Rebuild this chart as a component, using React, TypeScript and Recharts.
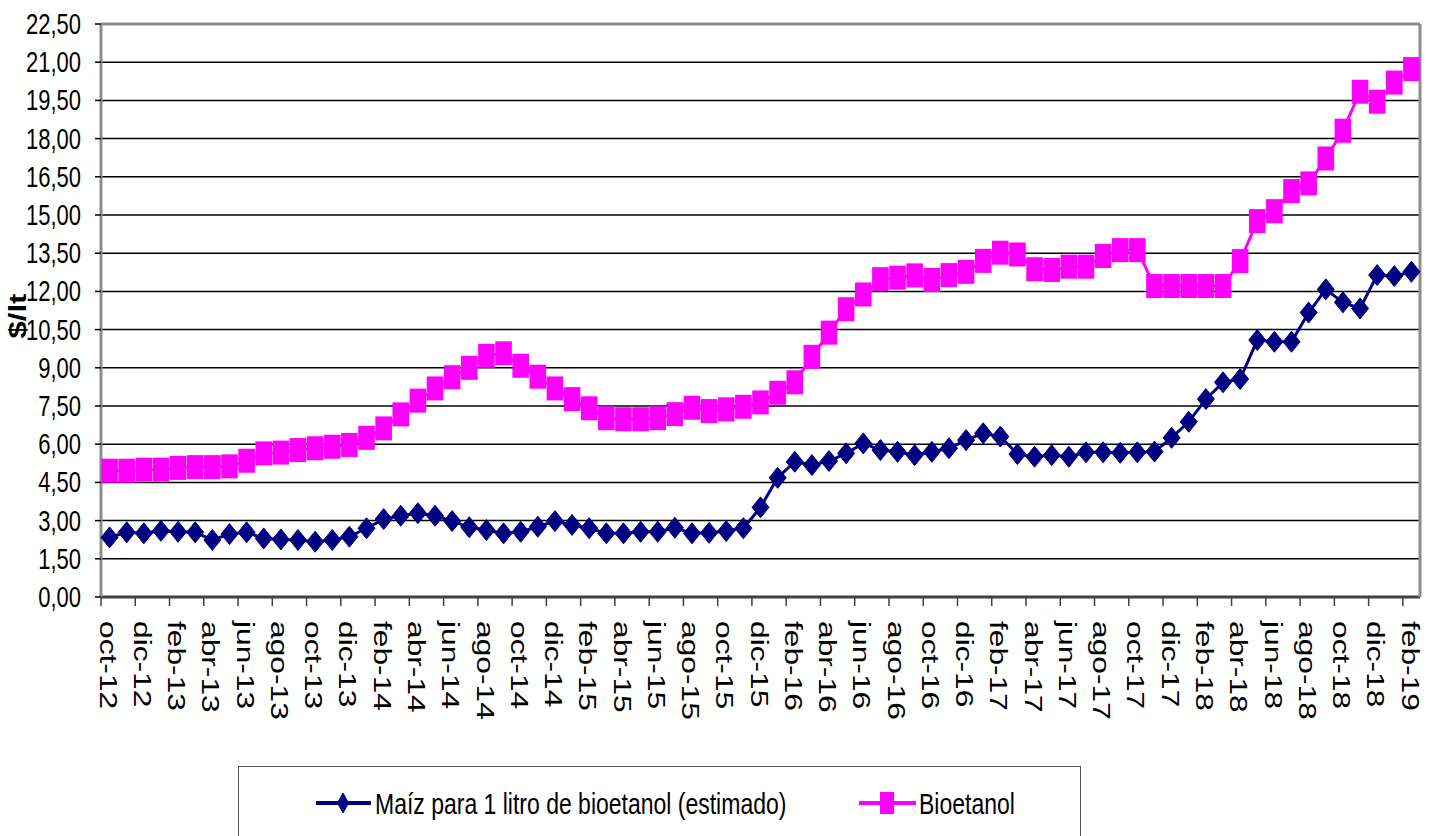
import React from "react";
import { CartesianGrid, Line, LineChart, ReferenceLine, XAxis, YAxis } from "recharts";

const meses = [
  "oct-12", "nov-12", "dic-12",
  "ene-13", "feb-13", "mar-13", "abr-13", "may-13", "jun-13", "jul-13", "ago-13", "sep-13", "oct-13", "nov-13", "dic-13",
  "ene-14", "feb-14", "mar-14", "abr-14", "may-14", "jun-14", "jul-14", "ago-14", "sep-14", "oct-14", "nov-14", "dic-14",
  "ene-15", "feb-15", "mar-15", "abr-15", "may-15", "jun-15", "jul-15", "ago-15", "sep-15", "oct-15", "nov-15", "dic-15",
  "ene-16", "feb-16", "mar-16", "abr-16", "may-16", "jun-16", "jul-16", "ago-16", "sep-16", "oct-16", "nov-16", "dic-16",
  "ene-17", "feb-17", "mar-17", "abr-17", "may-17", "jun-17", "jul-17", "ago-17", "sep-17", "oct-17", "nov-17", "dic-17",
  "ene-18", "feb-18", "mar-18", "abr-18", "may-18", "jun-18", "jul-18", "ago-18", "sep-18", "oct-18", "nov-18", "dic-18",
  "ene-19", "feb-19",
];

const maiz = [
  2.34, 2.54, 2.5,
  2.6, 2.56, 2.54, 2.24, 2.47, 2.54, 2.3, 2.26, 2.24, 2.17, 2.24, 2.37,
  2.7, 3.06, 3.19, 3.29, 3.19, 2.98, 2.74, 2.63, 2.5, 2.56, 2.76, 2.98,
  2.83, 2.7, 2.5, 2.5, 2.56, 2.56, 2.72, 2.5, 2.52, 2.59, 2.7, 3.52,
  4.68, 5.31, 5.18, 5.34, 5.64, 6.03, 5.77, 5.7, 5.57, 5.7, 5.84, 6.16,
  6.43, 6.3, 5.61, 5.51, 5.57, 5.51, 5.68, 5.68, 5.66, 5.68, 5.71, 6.25,
  6.88, 7.77, 8.43, 8.56, 10.09, 10.02, 10.02, 11.17, 12.08, 11.57, 11.33, 12.64,
  12.6, 12.77,
];

const bioetanol = [
  4.96, 4.96, 5.0,
  5.0, 5.07, 5.1, 5.1, 5.13, 5.35, 5.64, 5.67, 5.77, 5.84, 5.9, 5.97,
  6.25, 6.62, 7.17, 7.71, 8.19, 8.63, 9.0, 9.47, 9.57, 9.08, 8.65, 8.19,
  7.77, 7.41, 7.02, 6.98, 6.98, 7.02, 7.18, 7.43, 7.3, 7.37, 7.47, 7.64,
  8.02, 8.43, 9.43, 10.38, 11.3, 11.88, 12.48, 12.54, 12.63, 12.45, 12.64, 12.77,
  13.2, 13.52, 13.45, 12.87, 12.84, 12.97, 12.97, 13.39, 13.62, 13.62, 12.21, 12.21,
  12.21, 12.21, 12.21, 13.19, 14.76, 15.15, 15.94, 16.24, 17.22, 18.31, 19.84, 19.45,
  20.2, 20.73,
];

const yTicks = [0, 1.5, 3, 4.5, 6, 7.5, 9, 10.5, 12, 13.5, 15, 16.5, 18, 19.5, 21, 22.5];

const data = meses.map((mes, i) => ({ mes, maiz: maiz[i], bioetanol: bioetanol[i] }));

const NAVY = "#000080";
const MAGENTA = "#FF00FF";
const FONT = "'Liberation Sans', Arial, sans-serif";

const W = 1437;
const H = 836;
const PLOT_LEFT = 101;
const PLOT_RIGHT = 1420;
const PLOT_BOTTOM = 597;
const HALF_STEP = (PLOT_RIGHT - PLOT_LEFT) / meses.length / 2;

const fmt = (v: number) => v.toFixed(2).replace(".", ",");

function YTick(props: any) {
  const { y, payload } = props;
  return (
    <text
      transform={`translate(81,${y}) scale(1,1.3)`}
      textAnchor="end"
      dominantBaseline="central"
      fontFamily={FONT}
      fontSize={22}
      fill="#000"
    >
      {fmt(payload.value)}
    </text>
  );
}

function XTick(props: any) {
  const { x, payload } = props;
  const tx = x - HALF_STEP;
  return (
    <g>
      <line x1={tx} y1={PLOT_BOTTOM} x2={tx} y2={PLOT_BOTTOM + 9} stroke="#404040" strokeWidth={1.5} />
      <text
        transform={`translate(${x - 2},${PLOT_BOTTOM + 24}) rotate(90) scale(1.38,1)`}
        textAnchor="start"
        dominantBaseline="central"
        fontFamily={FONT}
        fontSize={23}
        fill="#000"
      >
        {payload.value}
      </text>
    </g>
  );
}

function Diamond({ cx, cy, w = 8.5, h = 10.5 }: any) {
  if (cx == null || cy == null) return null;
  return (
    <polygon
      points={`${cx},${cy - h} ${cx + w},${cy} ${cx},${cy + h} ${cx - w},${cy}`}
      fill={NAVY}
      stroke={NAVY}
    />
  );
}

function Square({ cx, cy, w = 8.3, h = 12 }: any) {
  if (cx == null || cy == null) return null;
  return <rect x={cx - w} y={cy - h} width={w * 2} height={h * 2} fill={MAGENTA} />;
}

function Leyenda() {
  return (
    <div
      style={{
        position: "absolute",
        left: 238,
        top: 766,
        width: 841,
        height: 70,
        borderTop: "1.5px solid #555",
        borderLeft: "1px solid #555",
        borderRight: "1px solid #555",
        background: "#fff",
      }}
    >
      <svg width={841} height={70}>
        <line x1={77} y1={36} x2={132} y2={36} stroke={NAVY} strokeWidth={4} />
        <Diamond cx={104} cy={36} w={5.5} h={10} />
        <text
          transform="translate(136,37) scale(1,1.3)"
          dominantBaseline="central"
          fontFamily={FONT}
          fontSize={23}
          fill="#000"
        >
          Maíz para 1 litro de bioetanol (estimado)
        </text>
        <line x1={620} y1={36} x2={677} y2={36} stroke={MAGENTA} strokeWidth={4} />
        <Square cx={648} cy={36} w={7} h={11} />
        <text
          transform="translate(680,37) scale(1,1.3)"
          dominantBaseline="central"
          fontFamily={FONT}
          fontSize={23}
          fill="#000"
        >
          Bioetanol
        </text>
      </svg>
    </div>
  );
}

export default function App() {
  return (
    <div
      style={{
        position: "absolute",
        left: 0,
        top: 0,
        width: W,
        height: H,
        overflow: "hidden",
        background: "#fff",
      }}
    >
      <LineChart
        width={W}
        height={H}
        data={data}
        margin={{ top: 24, right: 0, left: 0, bottom: 119 }}
      >
        <CartesianGrid vertical={false} stroke="#000" strokeWidth={1.5} />
        <XAxis
          dataKey="mes"
          interval={1}
          height={120}
          padding={{ left: HALF_STEP, right: HALF_STEP }}
          tickLine={false}
          axisLine={{ stroke: "#404040", strokeWidth: 3 }}
          tick={<XTick />}
        />
        <YAxis
          width={PLOT_LEFT}
          domain={[0, 22.5]}
          ticks={yTicks}
          tickSize={6}
          tickLine={{ stroke: "#000", strokeWidth: 1.5 }}
          axisLine={{ stroke: "#8c8c8c", strokeWidth: 3 }}
          tick={<YTick />}
          label={{
            content: () => (
              <text
                transform="translate(18,316) rotate(-90) scale(1.35,1)"
                textAnchor="middle"
                dominantBaseline="central"
                fontFamily={FONT}
                fontWeight="bold"
                fontSize={23}
                fill="#000"
              >
                $/lt
              </text>
            ),
          }}
        />
        <YAxis
          yAxisId="r"
          orientation="right"
          width={W - PLOT_RIGHT}
          tick={false}
          tickLine={false}
          axisLine={{ stroke: "#8c8c8c", strokeWidth: 3 }}
        />
        <ReferenceLine y={22.5} stroke="#8c8c8c" strokeWidth={3} />
        <Line
          dataKey="maiz"
          name="Maíz para 1 litro de bioetanol (estimado)"
          stroke={NAVY}
          strokeWidth={3}
          dot={(p: any) => <Diamond key={`m-${p.index}`} cx={p.cx} cy={p.cy} />}
          isAnimationActive={false}
        />
        <Line
          dataKey="bioetanol"
          name="Bioetanol"
          stroke={MAGENTA}
          strokeWidth={3}
          dot={(p: any) => <Square key={`b-${p.index}`} cx={p.cx} cy={p.cy} />}
          isAnimationActive={false}
        />
      </LineChart>
      <Leyenda />
    </div>
  );
}
